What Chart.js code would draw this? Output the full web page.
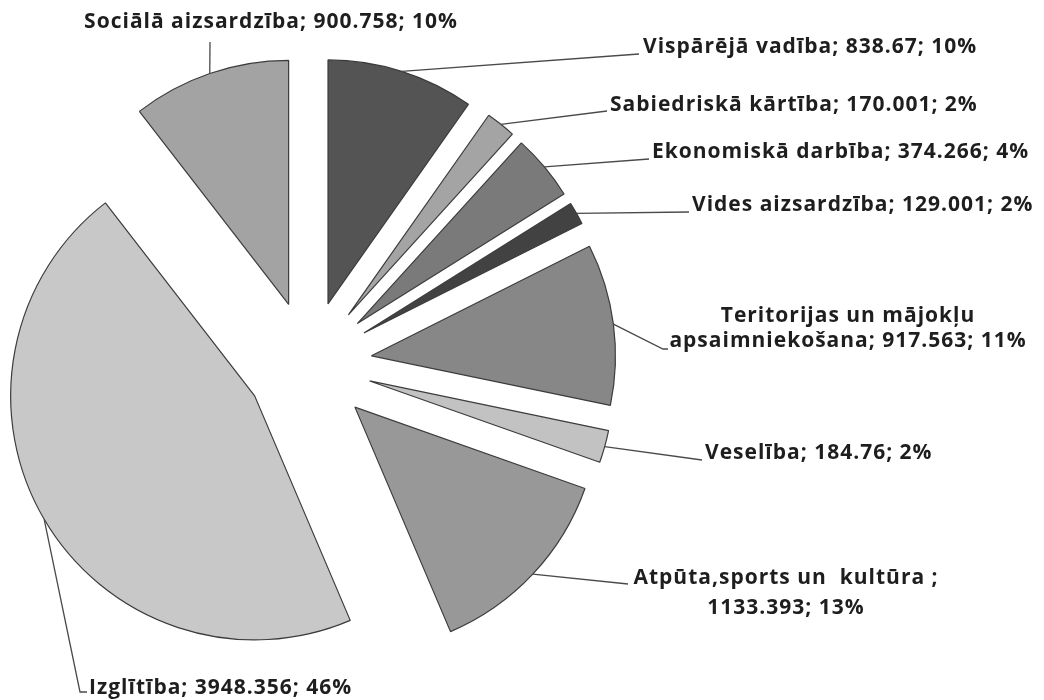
<!DOCTYPE html>
<html><head><meta charset="utf-8">
<script src="https://cdn.jsdelivr.net/npm/chart.js@4"></script>
<style>html,body{margin:0;padding:0;background:#fff}canvas{display:block}</style>
</head><body>
<canvas id="c" width="1044" height="700"></canvas>
<script>
// ---- data ----
const categories = ["Vispārējā vadība","Sabiedriskā kārtība","Ekonomiskā darbība","Vides aizsardzība","Teritorijas un mājokļu apsaimniekošana","Veselība","Atpūta,sports un  kultūra ","Izglītība","Sociālā aizsardzība"];
const values = [838.67,170.001,374.266,129.001,917.563,184.76,1133.393,3948.356,900.758];
const valueLabels = ["838.67","170.001","374.266","129.001","917.563","184.76","1133.393","3948.356","900.758"];
const percentLabels = ["10%","2%","4%","2%","11%","2%","13%","46%","10%"];

// ---- styles / layout ----
const colors = ['#545454','#a4a4a4','#7a7a7a','#424242','#878787','#c2c2c2','#989898','#c8c8c8','#a3a3a3'];
const EXPLODE = 63;
const FONT = 'bold 21px "Open Sans"';
const labelLayout = [
  {path:[[639,54]], x:643, y:47, align:'left'},
  {path:[[607,111]], x:610, y:105, align:'left'},
  {path:[[649,159]], x:652, y:152, align:'left'},
  {path:[[689,212]], x:692, y:205, align:'left'},
  {path:[[663,349],[668,349]], x:848, y:316, align:'center', lh:25, breakAt:'mājokļu '},
  {path:[[702,460]], x:705, y:453, align:'left'},
  {path:[[628,584]], x:786, y:578, align:'center', lh:30, breakAt:'; '},
  {path:[[80,692],[87,692]], x:89, y:688, align:'left'},
  {path:[[210,42]], x:271, y:22, align:'center'}
];

// exploded slices: translate each arc along its bisector (no radius change)
const origArcDraw = Chart.ArcElement.prototype.draw;
Chart.ArcElement.prototype.draw = function(ctx){
  const mid = (this.startAngle + this.endAngle) / 2;
  ctx.save();
  ctx.translate(Math.cos(mid)*EXPLODE, Math.sin(mid)*EXPLODE);
  origArcDraw.call(this, ctx);
  ctx.restore();
};

const labelPlugin = {
  id:'lbl',
  afterDatasetsDraw(chart){
    const ctx = chart.ctx;
    const meta = chart.getDatasetMeta(0);
    ctx.save();
    meta.data.forEach((arc,i)=>{
      const L = labelLayout[i];
      const p = arc.getProps(['x','y','startAngle','endAngle','outerRadius'], true);
      const mid = (p.startAngle+p.endAngle)/2;
      const r = EXPLODE + p.outerRadius;
      const ax = p.x + Math.cos(mid)*r;
      const ay = p.y + Math.sin(mid)*r;
      ctx.beginPath();
      ctx.moveTo(ax, ay);
      L.path.forEach(([x,y])=>ctx.lineTo(x,y));
      ctx.strokeStyle = '#4a4a4a';
      ctx.lineWidth = 1.3;
      ctx.stroke();
      const full = categories[i] + '; ' + valueLabels[i] + '; ' + percentLabels[i];
      let lines = [full];
      if (L.breakAt){
        const k = full.indexOf(L.breakAt) + L.breakAt.length;
        lines = [full.slice(0,k).trimEnd(), full.slice(k)];
      }
      ctx.font = FONT;
      if ('letterSpacing' in ctx) ctx.letterSpacing = '1px';
      ctx.fillStyle = '#1e1e1e';
      ctx.textAlign = L.align;
      ctx.textBaseline = 'middle';
      lines.forEach((s,j)=>ctx.fillText(s, L.x, L.y + j*(L.lh||0)));
    });
    ctx.restore();
  }
};

new Chart(document.getElementById('c'), {
  type:'pie',
  data:{
    labels:categories,
    datasets:[{
      data:values,
      backgroundColor:colors,
      borderColor:'#3c3c3c',
      borderWidth:1.2,
      clip:false
    }]
  },
  options:{
    responsive:false,
    devicePixelRatio:1,
    animation:false,
    events:[],
    radius:244,
    layout:{padding:{left:0,top:28,right:426,bottom:0}},
    plugins:{legend:{display:false}, tooltip:{enabled:false}}
  },
  plugins:[labelPlugin]
});
</script>
</body></html>
